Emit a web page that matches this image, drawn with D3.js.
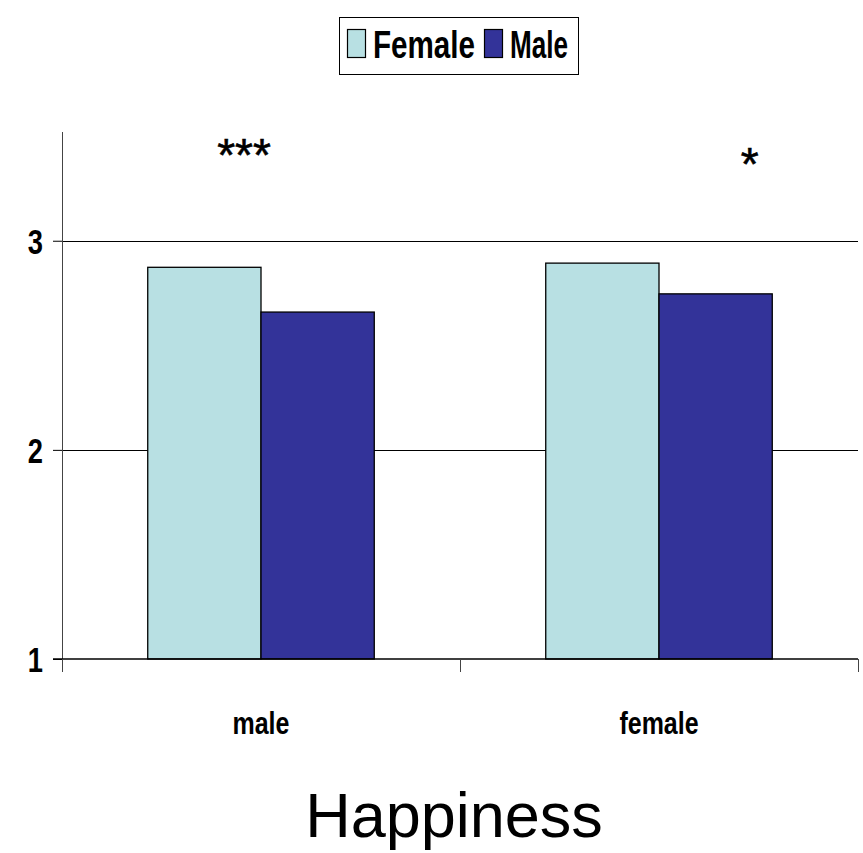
<!DOCTYPE html>
<html><head><meta charset="utf-8">
<script src="https://cdn.jsdelivr.net/npm/d3@7"></script>
<style>
html,body{margin:0;padding:0;background:#fff;}
svg{display:block;}
.narrow{font-family:"Liberation Sans Narrow","Arial Narrow","Liberation Sans",sans-serif;font-weight:bold;}
</style></head>
<body>
<svg id="chart" width="863" height="853"></svg>
<script>
const categories = ["male", "female"];
const series = ["Female", "Male"];
const femaleValues = [2.873, 2.893];
const maleValues = [2.659, 2.746];
const yTicks = [1, 2, 3];
const significance = ["***", "*"];
const xTitle = "Happiness";
const colors = {Female: "#B8E0E3", Male: "#333399"};

const svg = d3.select("#chart");
const pLeft = 62, pRight = 858, pTop = 132, pBottom = 659;

function narrowize(sel, f) {
  sel.each(function() {
    const w = this.getComputedTextLength();
    d3.select(this).attr("textLength", w * f).attr("lengthAdjust", "spacingAndGlyphs");
  });
}

const x0 = d3.scaleBand().domain(categories).range([pLeft, pRight]).padding(0);
const x1 = d3.scaleBand().domain(series).range([0, x0.bandwidth()]).paddingInner(0).paddingOuter(0.757);
const y = d3.scaleLinear().domain([1, 3.52]).range([pBottom, pTop]);

// gridlines
svg.append("g").selectAll("line").data(yTicks.filter(t => t > 1)).join("line")
  .attr("x1", pLeft).attr("x2", pRight)
  .attr("y1", d => Math.round(y(d)) + 0.5).attr("y2", d => Math.round(y(d)) + 0.5)
  .attr("stroke", "#000").attr("stroke-width", 1);

// bars
const data = categories.map((c, i) => ({cat: c, vals: [{s: "Female", v: femaleValues[i]}, {s: "Male", v: maleValues[i]}]}));
const g = svg.append("g").selectAll("g").data(data).join("g")
  .attr("transform", d => `translate(${x0(d.cat)},0)`);
g.selectAll("rect").data(d => d.vals).join("rect")
  .attr("x", d => x1(d.s)).attr("width", x1.bandwidth())
  .attr("y", d => y(d.v)).attr("height", d => y(1) - y(d.v))
  .attr("fill", d => colors[d.s]).attr("stroke", "#000").attr("stroke-width", 1.3);

// y axis
const yAxis = d3.axisLeft(y).tickValues(yTicks).tickSize(9).tickFormat(d3.format("d"));
const ya = svg.append("g").attr("transform", `translate(${pLeft},0)`).call(yAxis);
ya.select(".domain").remove();
ya.selectAll(".tick line").attr("stroke", "#000");
const yt = ya.selectAll(".tick text").attr("class", "narrow").attr("font-size", 35).attr("fill", "#000")
  .attr("x", -19).attr("dy", "0.36em");
narrowize(yt, 0.78);
svg.append("line").attr("x1", pLeft + 0.5).attr("x2", pLeft + 0.5).attr("y1", y(3.52)).attr("y2", pBottom + 13)
  .attr("stroke", "#444").attr("stroke-width", 1);

// x axis
svg.append("line").attr("x1", pLeft - 9).attr("x2", pRight).attr("y1", pBottom).attr("y2", pBottom)
  .attr("stroke", "#000").attr("stroke-width", 1.6);
const xb = [...categories.map(c => x0(c)), pRight];
svg.append("g").selectAll("line").data(xb).join("line")
  .attr("x1", d => d + 0.5).attr("x2", d => d + 0.5).attr("y1", pBottom).attr("y2", pBottom + 13)
  .attr("stroke", "#444").attr("stroke-width", 1);
const xl = svg.append("g").selectAll("text").data(categories).join("text")
  .attr("class", "narrow").attr("font-size", 32)
  .attr("x", d => x0(d) + x0.bandwidth() / 2).attr("y", 734)
  .attr("text-anchor", "middle").text(d => d);
narrowize(xl, 0.78);

// significance stars
const starX = [x0("male") + x1("Female") + x1.bandwidth() * 0.85, x0("female") + x1("Male") + x1.bandwidth() * 0.8];
const starY = [171, 180];
svg.append("g").selectAll("text").data(significance).join("text")
  .attr("font-family", "Liberation Sans, Arial, sans-serif").attr("font-size", 46)
  .attr("stroke", "#000").attr("stroke-width", 0.6)
  .attr("x", (d, i) => starX[i]).attr("y", (d, i) => starY[i])
  .attr("text-anchor", "middle").text(d => d);

// x title
svg.append("text").attr("font-family", "Liberation Sans, Arial, sans-serif").attr("font-size", 63)
  .attr("x", 454).attr("y", 837).attr("text-anchor", "middle").text(xTitle);

// legend
const lg = svg.append("g");
lg.append("rect").attr("x", 339.5).attr("y", 17.5).attr("width", 239).attr("height", 57)
  .attr("fill", "#fff").attr("stroke", "#000").attr("stroke-width", 1);
const legX = [347, 484];
const legW = [102, 58];
const legItems = lg.selectAll("g").data(series).join("g").attr("transform", (d, i) => `translate(${legX[i]},0)`);
legItems.append("rect").attr("x", 0.5).attr("y", 29.5).attr("width", 18).attr("height", 28)
  .attr("fill", d => colors[d]).attr("stroke", "#000").attr("stroke-width", 1.2);
legItems.append("text").attr("class", "narrow").attr("font-size", 38)
  .attr("x", 26).attr("y", 58).attr("textLength", (d, i) => legW[i]).attr("lengthAdjust", "spacingAndGlyphs")
  .text(d => d);
</script>
</body></html>
